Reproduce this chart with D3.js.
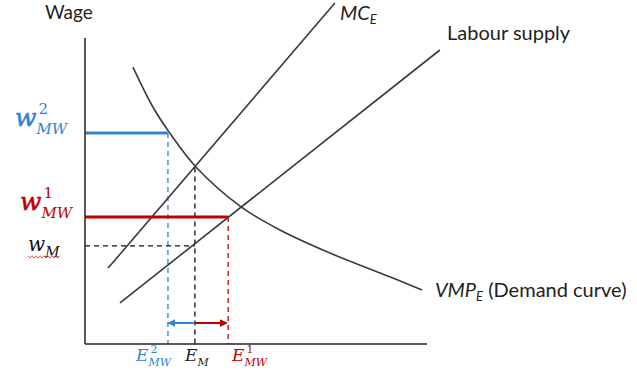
<!DOCTYPE html>
<html><head><meta charset="utf-8">
<script src="https://cdn.jsdelivr.net/npm/d3@7"></script>
<style>body{margin:0;background:#fff;overflow:hidden}</style>
</head><body>
<svg id="chart" width="637" height="373"></svg>
<script>
// ---- data (diagram units: employment 0..100, wage 0..100) ----
const axisTitle = "Wage";
const axisExtent = [97.7, 102];            // x-axis end, y-axis top
const mcePoints = [[6.6, 25.3], [71.4, 113.7]];
const supplyPoints = [[10, 13.7], [101.4, 98]];
const vmpPoints = [[13.7, 92.3], [19.4, 79], [24, 70.7], [31.7, 59], [44.6, 45.7],
                   [55.7, 38], [70, 30.3], [84.3, 23.7], [96.3, 18]];
const wageKeys = ["w2", "w1", "wM"];
const wageValues = [70.3, 42.3, 32.7];
const empKeys = ["E2", "EM", "E1"];
const empValues = [23.7, 31.4, 40.9];
const eqWageMC = 58.8;                    // MC_E = VMP_E at E_M
const arrowLevel = 7;
const curveLabels = ["MC", "Labour supply", "VMP", "(Demand curve)"];

const BLUE = "#2E86D1", RED = "#C00000", DARK = "#3a3a3a";

const svg = d3.select("#chart");
const x = d3.scaleLinear().domain([0, 100]).range([85, 435]);
const y = d3.scaleLinear().domain([0, 100]).range([344, 44]);

const defs = svg.append("defs");
function marker(id, color) {
  defs.append("marker").attr("id", id).attr("viewBox", "0 0 10 10")
    .attr("refX", 8).attr("refY", 5).attr("markerWidth", 4).attr("markerHeight", 4)
    .attr("orient", "auto-start-reverse")
    .append("path").attr("d", "M0,0 L10,5 L0,10 z").attr("fill", color);
}
marker("arrB", BLUE); marker("arrR", RED);

const line = d3.line().x(d => x(d[0])).y(d => y(d[1]));

const w = Object.fromEntries(wageKeys.map((k, i) => [k, wageValues[i]]));
const e = Object.fromEntries(empKeys.map((k, i) => [k, empValues[i]]));

function seg(x1, y1, x2, y2, color, width, dash) {
  svg.append("line").attr("x1", x(x1)).attr("y1", y(y1)).attr("x2", x(x2)).attr("y2", y(y2))
    .attr("stroke", color).attr("stroke-width", width)
    .attr("stroke-dasharray", dash || null);
}
// dashed guides
seg(e.E2, w.w2, e.E2, 0, BLUE, 1.3, "5,4");
seg(e.E1, w.w1, e.E1, 0, RED, 1.3, "5,4");
seg(e.EM, eqWageMC, e.EM, 0, "#111", 1.3, "5,4");
seg(0, w.wM, e.EM, w.wM, "#111", 1.3, "5,4");

// curves
svg.append("path").attr("d", line(mcePoints)).attr("fill", "none").attr("stroke", DARK).attr("stroke-width", 1.6);
svg.append("path").attr("d", line(supplyPoints)).attr("fill", "none").attr("stroke", DARK).attr("stroke-width", 1.6);
svg.append("path").attr("d", d3.line().x(d => x(d[0])).y(d => y(d[1])).curve(d3.curveCatmullRom)(vmpPoints))
  .attr("fill", "none").attr("stroke", DARK).attr("stroke-width", 1.6);

// minimum wage lines
seg(0, w.w2, e.E2, w.w2, BLUE, 3);
seg(0, w.w1, e.E1, w.w1, RED, 3);

// arrows
svg.append("line").attr("x1", x(e.EM)).attr("y1", y(arrowLevel)).attr("x2", x(e.E2) + 1).attr("y2", y(arrowLevel))
  .attr("stroke", BLUE).attr("stroke-width", 2).attr("marker-end", "url(#arrB)");
svg.append("line").attr("x1", x(e.EM)).attr("y1", y(arrowLevel)).attr("x2", x(e.E1) - 2).attr("y2", y(arrowLevel))
  .attr("stroke", RED).attr("stroke-width", 2).attr("marker-end", "url(#arrR)");

// axes
seg(0, 0, 0, axisExtent[1], "#222", 1.5);
seg(0, 0, axisExtent[0], 0, "#222", 1.5);

// ---- text ----
const SANS = "Lato, 'Open Sans', sans-serif";
const SERIF = "'DejaVu Serif', serif";
svg.append("text").attr("x", 45).attr("y", 19).attr("font-family", SANS).attr("font-size", 19)
  .attr("fill", "#222").text(axisTitle);

// one text element per label: base, superscript and subscript stacked via tspans
function mathLabel(px, py, base, sup, sub, color, bs, ss, heavy) {
  const t = svg.append("text").attr("x", px).attr("y", py).attr("fill", color)
    .attr("font-family", SERIF).attr("font-style", "italic");
  const b = t.append("tspan").attr("font-size", bs).text(base);
  if (heavy) b.attr("stroke", color).attr("stroke-width", 0.6);
  const raise = bs * 0.5, drop = bs * 0.3;
  if (sup) {
    const s = t.append("tspan").attr("font-size", ss).attr("font-style", "normal")
      .attr("dx", 2).attr("dy", -raise).text(sup);
    const sw = s.node().getComputedTextLength();
    t.append("tspan").attr("font-size", ss).attr("dx", -(sw + 2)).attr("dy", raise + drop).text(sub);
  } else {
    t.append("tspan").attr("font-size", ss).attr("dx", 0).attr("dy", drop).text(sub);
  }
  return t;
}
mathLabel(15, 126, "w", "2", "MW", BLUE, 25, 15, true);
mathLabel(20, 210, "w", "1", "MW", RED, 25, 15, true);
const wm = mathLabel(28, 251, "w", null, "M", "#111", 20, 14, false);
// red wavy underline (as in source)
{
  const bb = wm.node().getBBox();
  const pts = d3.range(bb.x, bb.x + bb.width + 1, 2).map((v, i) => [v, 257 + (i % 2 ? 1.2 : -1.2)]);
  svg.append("path").attr("d", d3.line()(pts)).attr("fill", "none").attr("stroke", "#e03030").attr("stroke-width", 0.8);
}
mathLabel(136, 361, "E", "2", "MW", BLUE, 17, 11, false);
mathLabel(185, 361, "E", null, "M", "#222", 17, 11, false);
mathLabel(232, 361, "E", "1", "MW", RED, 17, 11, false);

// curve labels
function sansSub(px, py, base, sub, rest) {
  const t = svg.append("text").attr("x", px).attr("y", py).attr("font-family", SANS).attr("font-size", 20).attr("fill", "#222");
  t.append("tspan").attr("font-style", "italic").text(base);
  t.append("tspan").attr("font-style", "italic").attr("font-size", 13).attr("dy", 4).text(sub);
  if (rest) t.append("tspan").attr("dy", -4).text(" " + rest);
}
sansSub(340, 20, curveLabels[0], "E");
svg.append("text").attr("x", 447).attr("y", 40).attr("font-family", SANS).attr("font-size", 20).attr("fill", "#222").text(curveLabels[1]);
sansSub(435, 297, curveLabels[2], "E", curveLabels[3]);
</script>
</body></html>
